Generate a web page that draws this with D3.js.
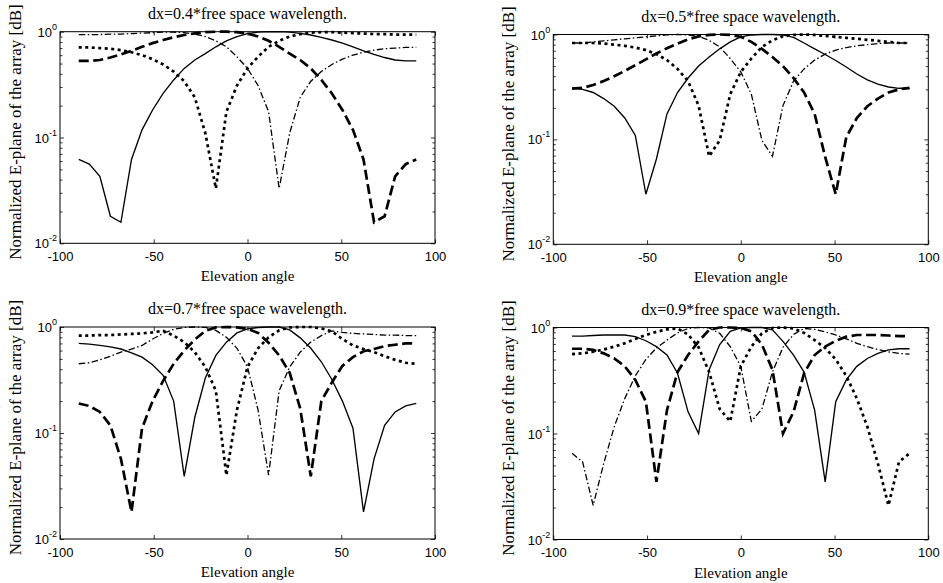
<!DOCTYPE html>
<html><head><meta charset="utf-8">
<script src="https://cdnjs.cloudflare.com/ajax/libs/d3/7.8.5/d3.min.js"></script>
<style>html,body{margin:0;padding:0;background:#fff;} svg{display:block;}</style>
</head><body>
<svg id="chart" width="943" height="583"></svg>
<script>
// ---------- data ----------
const angles = [-90,-84.375,-78.75,-73.125,-67.5,-61.875,-56.25,-50.625,-45,-39.375,-33.75,-28.125,-22.5,-16.875,-11.25,-5.625,0,5.625,11.25,16.875,22.5,28.125,33.75,39.375,45,50.625,56.25,61.875,67.5,73.125,78.75,84.375,90];
const xTickValues = [-100,-50,0,50,100];
const yMajorTicks = [1,0.1,0.01];
const yMinorTicks = [0.02,0.03,0.04,0.05,0.06,0.07,0.08,0.09,0.2,0.3,0.4,0.5,0.6,0.7,0.8,0.9];
const panelTitles = ["dx=0.4*free space wavelength.","dx=0.5*free space wavelength.","dx=0.7*free space wavelength.","dx=0.9*free space wavelength."];
const xLabelText = "Elevation angle";
const yLabelText = "Normalized E-plane of the array [dB]";

// dx = 0.4
const solid04   = [0.062,0.056,0.043,0.018,0.0158,0.062,0.118,0.182,0.261,0.35,0.45,0.54,0.62,0.72,0.82,0.90,0.96,0.99,1.0,1.0,0.99,0.965,0.93,0.885,0.835,0.78,0.72,0.66,0.61,0.57,0.54,0.53,0.53];
const dashed04  = [0.53,0.53,0.54,0.57,0.61,0.66,0.72,0.78,0.835,0.885,0.93,0.965,0.99,1.0,1.0,0.99,0.96,0.90,0.82,0.72,0.62,0.54,0.45,0.35,0.261,0.182,0.118,0.062,0.0158,0.018,0.043,0.056,0.062];
const dotted04  = [0.71,0.71,0.70,0.69,0.67,0.64,0.60,0.55,0.49,0.42,0.34,0.24,0.11,0.033,0.175,0.31,0.45,0.58,0.72,0.82,0.90,0.95,0.98,0.99,0.99,0.98,0.97,0.96,0.95,0.95,0.94,0.94,0.94];
const dashdot04 = [0.94,0.94,0.94,0.95,0.95,0.96,0.97,0.98,0.99,0.99,0.98,0.95,0.90,0.82,0.72,0.58,0.45,0.31,0.175,0.033,0.11,0.24,0.34,0.42,0.49,0.55,0.60,0.64,0.67,0.69,0.70,0.71,0.71];
// dx = 0.5
const solid05   = [0.31,0.30,0.28,0.245,0.207,0.16,0.109,0.030,0.065,0.175,0.28,0.385,0.50,0.61,0.73,0.85,0.95,0.99,1.0,1.0,0.99,0.94,0.83,0.73,0.645,0.565,0.49,0.42,0.37,0.337,0.316,0.307,0.305];
const dashed05  = [0.305,0.31,0.33,0.36,0.40,0.45,0.51,0.58,0.66,0.74,0.82,0.90,0.96,0.99,1.0,0.99,0.95,0.85,0.73,0.61,0.50,0.385,0.28,0.175,0.068,0.030,0.105,0.16,0.207,0.245,0.28,0.30,0.31];
const dotted05  = [0.83,0.83,0.83,0.82,0.80,0.78,0.75,0.71,0.65,0.57,0.47,0.36,0.21,0.069,0.098,0.27,0.44,0.59,0.76,0.88,0.96,0.99,1.0,0.99,0.97,0.95,0.93,0.91,0.89,0.87,0.85,0.83,0.83];
const dashdot05 = [0.83,0.83,0.85,0.87,0.89,0.91,0.93,0.95,0.97,0.99,1.0,0.99,0.96,0.88,0.76,0.59,0.44,0.27,0.098,0.069,0.21,0.36,0.47,0.57,0.65,0.71,0.75,0.78,0.80,0.82,0.83,0.83,0.83];
// dx = 0.7
const solid07   = [0.70,0.69,0.67,0.65,0.62,0.57,0.52,0.44,0.35,0.20,0.039,0.14,0.33,0.54,0.72,0.88,0.96,0.99,1.0,1.0,0.94,0.79,0.63,0.47,0.32,0.20,0.111,0.018,0.057,0.118,0.158,0.18,0.19];
const dashed07  = [0.19,0.18,0.158,0.118,0.057,0.018,0.111,0.20,0.31,0.45,0.60,0.76,0.92,0.99,1.0,0.99,0.96,0.88,0.71,0.54,0.37,0.17,0.039,0.20,0.30,0.43,0.52,0.59,0.62,0.66,0.68,0.70,0.70];
const dotted07  = [0.83,0.83,0.84,0.84,0.85,0.86,0.87,0.89,0.92,0.83,0.72,0.58,0.42,0.25,0.04,0.165,0.42,0.63,0.80,0.93,0.99,1.0,1.0,0.97,0.91,0.77,0.67,0.62,0.58,0.53,0.49,0.46,0.45];
const dashdot07 = [0.45,0.46,0.49,0.53,0.58,0.62,0.67,0.77,0.87,0.95,0.99,1.0,0.99,0.93,0.80,0.63,0.42,0.165,0.04,0.25,0.42,0.58,0.72,0.83,0.92,0.89,0.87,0.86,0.85,0.84,0.84,0.83,0.83];
// dx = 0.9
const solid09   = [0.83,0.83,0.84,0.85,0.85,0.85,0.82,0.75,0.66,0.55,0.37,0.16,0.10,0.40,0.69,0.92,0.99,1.0,1.0,0.95,0.74,0.55,0.38,0.166,0.035,0.20,0.32,0.43,0.51,0.57,0.615,0.63,0.63];
const dashed09  = [0.63,0.63,0.615,0.57,0.51,0.43,0.32,0.20,0.035,0.166,0.38,0.55,0.74,0.95,1.0,1.0,0.99,0.92,0.69,0.40,0.10,0.16,0.37,0.55,0.66,0.75,0.82,0.85,0.85,0.85,0.84,0.83,0.83];
const dotted09  = [0.56,0.57,0.59,0.62,0.66,0.71,0.78,0.85,0.91,0.96,0.98,0.86,0.65,0.38,0.17,0.13,0.43,0.66,0.88,0.99,1.0,0.98,0.89,0.76,0.64,0.50,0.35,0.214,0.116,0.052,0.021,0.054,0.065];
const dashdot09 = [0.065,0.054,0.021,0.052,0.116,0.214,0.35,0.50,0.64,0.76,0.89,0.98,1.0,0.99,0.88,0.66,0.43,0.13,0.17,0.38,0.65,0.86,0.98,0.96,0.91,0.85,0.78,0.71,0.66,0.62,0.59,0.57,0.56];

// ---------- layout ----------
const panels = [
  {title: panelTitles[0], box:{l:60,   r:435,   t:31.7, b:243.3}, series:[solid04,dashed04,dotted04,dashdot04]},
  {title: panelTitles[1], box:{l:553.3,r:928.3, t:34.5, b:244.3}, series:[solid05,dashed05,dotted05,dashdot05]},
  {title: panelTitles[2], box:{l:60,   r:435,   t:327,  b:539},   series:[solid07,dashed07,dotted07,dashdot07]},
  {title: panelTitles[3], box:{l:553.3,r:928.3, t:327.5,b:539.5}, series:[solid09,dashed09,dotted09,dashdot09]}
];
const lineStyles = [
  {w:1.35, dash:null},
  {w:2.7, dash:"10,4.5"},
  {w:2.7, dash:"3,3.5"},
  {w:1.3, dash:"6.5,2.5,1.5,2.5"}
];
const serif = "'Liberation Serif','Times New Roman',Times,serif";
const sans = "'Liberation Sans',Arial,Helvetica,sans-serif";

const svg = d3.select("#chart");

panels.forEach(p => {
  const b = p.box;
  const x = d3.scaleLinear().domain([-100,100]).range([b.l, b.r]);
  const y = d3.scaleLog().domain([0.01,1]).range([b.b, b.t]);
  const g = svg.append("g");

  const xb = g.append("g").attr("transform",`translate(0,${b.b})`)
    .call(d3.axisBottom(x).tickValues(xTickValues).tickSize(-4).tickSizeOuter(0).tickPadding(8.6).tickFormat(d => String(d)));
  const xt = g.append("g").attr("transform",`translate(0,${b.t})`)
    .call(d3.axisTop(x).tickValues(xTickValues).tickSize(-4).tickSizeOuter(0).tickFormat(""));
  const yl = g.append("g").attr("transform",`translate(${b.l},0)`)
    .call(d3.axisLeft(y).tickValues(yMajorTicks).tickSize(-4).tickSizeOuter(0).tickFormat(""));
  const ylm = g.append("g").attr("transform",`translate(${b.l},0)`)
    .call(d3.axisLeft(y).tickValues(yMinorTicks).tickSize(-2.5).tickSizeOuter(0).tickFormat(""));
  const yr = g.append("g").attr("transform",`translate(${b.r},0)`)
    .call(d3.axisRight(y).tickValues(yMajorTicks).tickSize(-4).tickSizeOuter(0).tickFormat(""));
  const yrm = g.append("g").attr("transform",`translate(${b.r},0)`)
    .call(d3.axisRight(y).tickValues(yMinorTicks).tickSize(-2.5).tickSizeOuter(0).tickFormat(""));
  [xb,xt,yl,ylm,yr,yrm].forEach(a => {
    a.select(".domain").remove();
    a.selectAll(".tick line").attr("stroke","#000").attr("stroke-width",0.8);
  });
  xb.selectAll("text").attr("font-family",sans).attr("font-size",13).attr("fill","#000");

  yMajorTicks.forEach(v => {
    const e = Math.round(Math.log10(v));
    const t = g.append("text").attr("x", b.l - 3).attr("y", y(v) + 5)
      .attr("text-anchor","end").attr("font-family",sans).attr("font-size",13).attr("fill","#000");
    t.append("tspan").text("10");
    t.append("tspan").attr("font-size",9).attr("dy",-7).text(String(e));
  });

  const line = d3.line().x((d,i) => x(angles[i])).y(d => y(d));
  p.series.forEach((s,i) => {
    const st = lineStyles[i];
    const path = g.append("path").attr("d", line(s)).attr("fill","none")
      .attr("stroke","#000").attr("stroke-width",st.w).attr("stroke-linejoin","miter");
    if (st.dash) path.attr("stroke-dasharray", st.dash);
  });

  g.append("rect").attr("x",b.l).attr("y",b.t).attr("width",b.r-b.l).attr("height",b.b-b.t)
    .attr("fill","none").attr("stroke","#000").attr("stroke-width",1);

  g.append("text").attr("x",(b.l+b.r)/2).attr("y",b.t-13).attr("text-anchor","middle")
    .attr("font-family",serif).attr("font-size",16).attr("fill","#000").text(p.title);
  g.append("text").attr("x",(b.l+b.r)/2).attr("y",b.b+38).attr("text-anchor","middle")
    .attr("font-family",serif).attr("font-size",15).attr("fill","#000").text(xLabelText);
  const cy = (b.t+b.b)/2 - 5.5;
  g.append("text").attr("transform",`translate(${b.l-39},${cy}) rotate(-90)`).attr("text-anchor","middle")
    .attr("font-family",serif).attr("font-size",17).attr("fill","#000").text(yLabelText);
});
</script>
</body></html>
